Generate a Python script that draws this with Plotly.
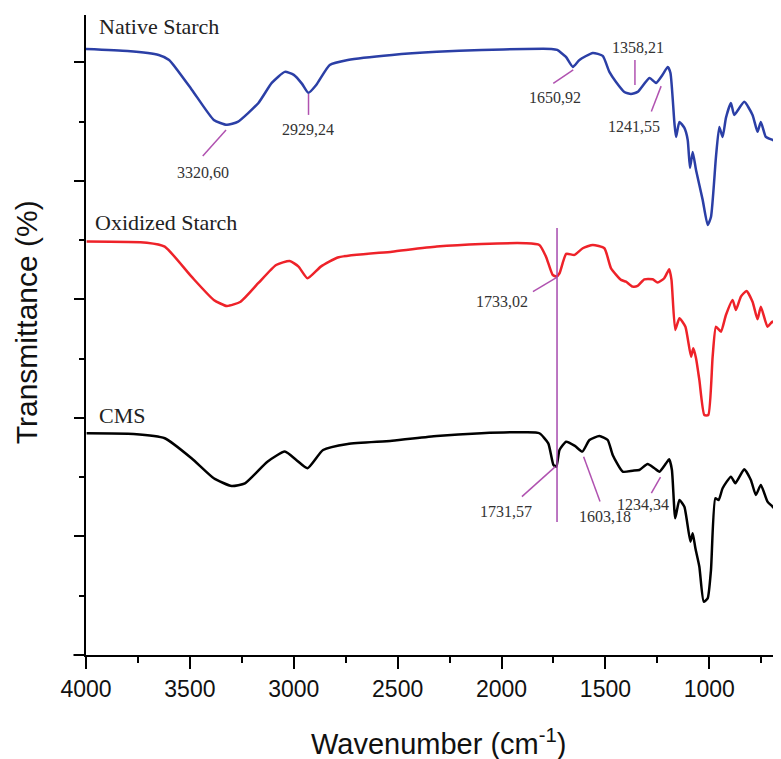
import plotly.graph_objects as go

# ---------------- data ----------------
native_wn = [4000, 3800, 3650, 3600, 3490, 3385, 3322, 3270, 3170, 3106, 3043, 3000, 2960, 2930, 2892,
             2827, 2740, 2527, 2312, 2096, 1885, 1760, 1732, 1690, 1657, 1625, 1561, 1513, 1481, 1449,
             1409, 1377, 1345, 1288, 1256, 1225, 1200, 1187, 1168, 1160, 1144, 1120, 1104, 1093, 1080,
             1064, 1032, 1008, 992, 968, 952, 936, 920, 896, 880, 832, 792, 768, 752, 728, 696, 659]
native_t = [5.114, 5.097, 5.063, 5.021, 4.768, 4.515, 4.473, 4.498, 4.658, 4.827, 4.920, 4.895, 4.819, 4.743, 4.810,
            4.979, 5.021, 5.063, 5.089, 5.105, 5.114, 5.114, 5.105, 5.046, 4.962, 5.021, 5.080, 5.055, 4.920, 4.835,
            4.751, 4.734, 4.751, 4.869, 4.827, 4.895, 4.962, 4.911, 4.489, 4.371, 4.498, 4.447, 4.346, 4.110, 4.245,
            4.093, 3.840, 3.629, 3.696, 4.203, 4.456, 4.371, 4.532, 4.658, 4.557, 4.667, 4.557, 4.414, 4.498, 4.371, 4.346, 4.321]

oxid_wn = [3997, 3707, 3621, 3492, 3385, 3322, 3256, 3170, 3085, 3020, 2977, 2934, 2870, 2784, 2527,
           2312, 2097, 1883, 1818, 1786, 1754, 1736, 1721, 1689, 1649, 1609, 1561, 1505, 1473, 1425,
           1401, 1369, 1345, 1313, 1273, 1249, 1217, 1193, 1182, 1164, 1144, 1115, 1088, 1077, 1064,
           1048, 1024, 1005, 984, 968, 944, 920, 888, 872, 848, 821, 792, 768, 752, 720, 696, 659]
oxid_t = [3.488, 3.479, 3.446, 3.192, 2.996, 2.945, 2.981, 3.139, 3.291, 3.325, 3.277, 3.179, 3.277, 3.356, 3.403,
          3.446, 3.468, 3.474, 3.460, 3.361, 3.207, 3.193, 3.221, 3.384, 3.376, 3.432, 3.460, 3.432, 3.263, 3.165,
          3.150, 3.108, 3.114, 3.170, 3.170, 3.142, 3.179, 3.255, 3.165, 2.743, 2.841, 2.770, 2.517, 2.588, 2.504,
          2.321, 2.025, 2.025, 2.517, 2.770, 2.728, 2.869, 2.996, 2.911, 3.024, 3.072, 2.981, 2.833, 2.939, 2.770, 2.813, 2.686]

cms_wn = [3997, 3771, 3621, 3492, 3385, 3299, 3235, 3127, 3043, 2988, 2934, 2859, 2740, 2527, 2312,
          2097, 1883, 1818, 1775, 1750, 1736, 1721, 1689, 1647, 1611, 1577, 1529, 1489, 1465, 1417,
          1369, 1337, 1297, 1264, 1240, 1208, 1193, 1180, 1164, 1144, 1120, 1091, 1080, 1067, 1048,
          1027, 1008, 992, 971, 955, 936, 896, 875, 832, 800, 776, 752, 720, 696, 659]
cms_t = [1.871, 1.865, 1.829, 1.660, 1.491, 1.426, 1.449, 1.631, 1.716, 1.646, 1.576, 1.730, 1.781, 1.808, 1.848,
         1.871, 1.879, 1.871, 1.786, 1.603, 1.589, 1.730, 1.800, 1.764, 1.716, 1.814, 1.848, 1.814, 1.688, 1.547,
         1.555, 1.561, 1.612, 1.576, 1.547, 1.618, 1.651, 1.561, 1.154, 1.308, 1.251, 0.956, 1.027, 0.900, 0.745,
         0.450, 0.478, 0.717, 1.322, 1.308, 1.407, 1.505, 1.449, 1.567, 1.477, 1.350, 1.435, 1.294, 1.252, 1.181]

series_names = ["Native Starch", "Oxidized Starch", "CMS"]
series_colors = ["#2b3fa6", "#ee2229", "#000000"]

x_tick_vals = [4000, 3500, 3000, 2500, 2000, 1500, 1000]

# peak labels: text, leader start (wn, t), leader end (wn, t), text centre (wn, t)
peak_labels = ["3320,60", "2929,24", "1650,92", "1358,21", "1241,55", "1733,02", "1731,57", "1603,18", "1234,34"]
peak_line_start = [(3326, 4.430), (2929, 4.734), (1655, 4.937), (1358, 5.021), (1232, 4.800),
                   (1734, 3.187), (1741, 1.589), (1605, 1.673), (1235, 1.500)]
peak_line_end = [(3438, 4.211), (2929, 4.557), (1751, 4.824), (1358, 4.810), (1279, 4.585),
                 (1849, 3.066), (1902, 1.336), (1526, 1.295), (1279, 1.365)]
peak_text_pos = [(3438, 4.068), (2933, 4.430), (1741, 4.700), (1343, 5.122), (1364, 4.458),
                 (1998, 2.981), (1977, 1.209), (1504, 1.167), (1321, 1.266)]

name_pos = [(3947, 5.30), (3966, 3.646), (3947, 2.025)]
marker_line_wn = 1733
marker_line_t = (1.122, 3.603)

# ---------------- figure ----------------
fig = go.Figure()
for wn, t, name, col in zip([native_wn, oxid_wn, cms_wn], [native_t, oxid_t, cms_t],
                            series_names, series_colors):
    fig.add_trace(go.Scatter(x=wn, y=t, mode="lines", name=name,
                             line=dict(color=col, width=2.5, shape="spline", smoothing=0.5)))

leader_col = "#b052b0"
for (x0, y0), (x1, y1) in zip(peak_line_start, peak_line_end):
    fig.add_shape(type="line", xref="x", yref="y", x0=x0, y0=y0, x1=x1, y1=y1,
                  line=dict(color=leader_col, width=1.5))
fig.add_shape(type="line", xref="x", yref="y", x0=marker_line_wn, x1=marker_line_wn,
              y0=marker_line_t[0], y1=marker_line_t[1], line=dict(color="#a64aae", width=1.5))

for txt, (x, y) in zip(peak_labels, peak_text_pos):
    fig.add_annotation(x=x, y=y, xref="x", yref="y", text=txt, showarrow=False,
                       xanchor="center", yanchor="middle",
                       font=dict(family="Liberation Serif", size=16, color="#333333"))

for txt, (x, y) in zip(series_names, name_pos):
    fig.add_annotation(x=x, y=y, xref="x", yref="y", text=txt, showarrow=False,
                       xanchor="left", yanchor="middle",
                       font=dict(family="Liberation Serif", size=22, color="#222222"))

# axis titles
fig.add_annotation(x=-0.0863, y=0.52, xref="paper", yref="paper", text="Transmittance (%)",
                   textangle=-90, showarrow=False, xanchor="center", yanchor="middle",
                   font=dict(family="Liberation Sans", size=30, color="#111111"))
fig.add_annotation(x=0.5065, y=-0.136, xref="paper", yref="paper", text="Wavenumber (cm<sup>-1</sup>)",
                   showarrow=False, xanchor="center", yanchor="middle",
                   font=dict(family="Liberation Sans", size=29, color="#111111"))

# x axis line overhang on the left
fig.add_shape(type="line", xref="paper", yref="paper", x0=-0.018, x1=0, y0=0, y1=0,
              line=dict(color="black", width=2))

fig.update_xaxes(range=[4000, 655], tickvals=x_tick_vals, ticks="outside", ticklen=12, tickwidth=2,
                 tickcolor="black", showline=True, linecolor="black", linewidth=2, showgrid=False,
                 zeroline=False, automargin=False,
                 tickfont=dict(family="Liberation Sans", size=23, color="#111111"),
                 minor=dict(dtick=250, tick0=0, ticks="outside", ticklen=6, tickwidth=2, tickcolor="black"))
fig.update_yaxes(range=[0, 5.40], dtick=1, tick0=0, ticks="outside", ticklen=10, tickwidth=2,
                 tickcolor="black", showline=True, linecolor="black", linewidth=2, showgrid=False,
                 zeroline=False, showticklabels=False, automargin=False,
                 minor=dict(dtick=0.5, tick0=0, ticks="outside", ticklen=5, tickwidth=2, tickcolor="black"))

# the page adds an 8px body margin, so the figure is sized to fit inside the window
fig.update_layout(width=773, height=751, margin=dict(l=78, r=0, t=7, b=104),
                  plot_bgcolor="white", paper_bgcolor="white", showlegend=False)

fig.write_html("out.html")
